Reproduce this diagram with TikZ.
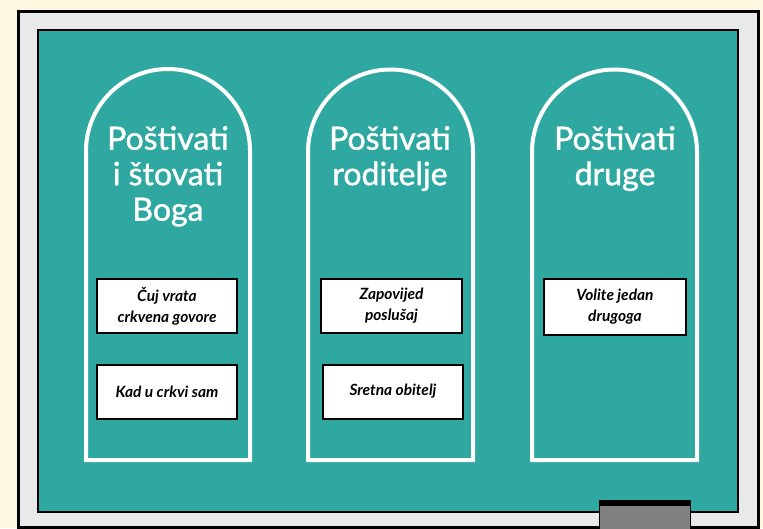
\documentclass[tikz,border=0pt]{standalone}
\usepackage{fontspec}
\setmainfont{Lato}
\newfontfamily\titlefont[FakeBold=1.2]{Lato}
\definecolor{cream}{RGB}{255,248,225}
\definecolor{teal}{RGB}{46,168,161}
\definecolor{framegray}{RGB}{232,233,232}
\definecolor{erasergray}{RGB}{128,129,128}
\tikzset{
  arch/.style={draw=white, line width=4pt},
  titletext/.style={text=white, align=center, inner sep=0pt, anchor=north,
    font=\titlefont\fontsize{32}{35.5}\selectfont},
  card/.style={draw=black, fill=white, line width=2pt, inner sep=0pt,
    align=center, font=\fontsize{15.5}{21}\selectfont\bfseries\itshape,
    minimum width=140pt, minimum height=54pt},
}
\begin{document}
\begin{tikzpicture}[x=1pt,y=1pt]
\useasboundingbox (0,0) rectangle (763,-528);
\fill[cream] (0,0) rectangle (763,-528);
% frame
\draw[fill=framegray, line width=3pt] (18.5,-11.5) rectangle (758,-527);
% board
\draw[fill=teal, line width=2pt] (38,-30) rectangle (738,-512);
% eraser
\draw[fill=erasergray, line width=1.5pt] (599.5,-500.5) rectangle (690.5,-530);
\fill[black] (599,-500) rectangle (691,-506);
% arches
\draw[arch] (86,-460) -- (86,-151) arc (180:0:82) -- (250,-460) -- cycle;
\draw[arch] (308,-460) -- (308,-152) arc (180:0:82.5) -- (473,-460) -- cycle;
\draw[arch] (532,-460) -- (532,-152) arc (180:0:82.5) -- (697,-460) -- cycle;
% titles
\node[titletext] (t1) at (168,-126) {Poštivati\\i štovati\\Boga};
\node[titletext] (t2) at (390,-126) {Poštivati\\roditelje};
\node[titletext] (t3) at (615,-126) {Poštivati\\druge};
% cards
\node[card] (c11) at (167,-306) {Čuj vrata\\crkvena govore};
\node[card] (c12) at (167,-391.5) {Kad u crkvi sam};
\node[card, minimum width=141pt] (c21) at (391.5,-305.5) {Zapovijed\\poslušaj};
\node[card] (c22) at (393,-391.5) {Sretna obitelj};
\node[card, minimum width=142pt, minimum height=56pt] (c31) at (615,-307) {Volite jedan\\drugoga};
\end{tikzpicture}
\end{document}
